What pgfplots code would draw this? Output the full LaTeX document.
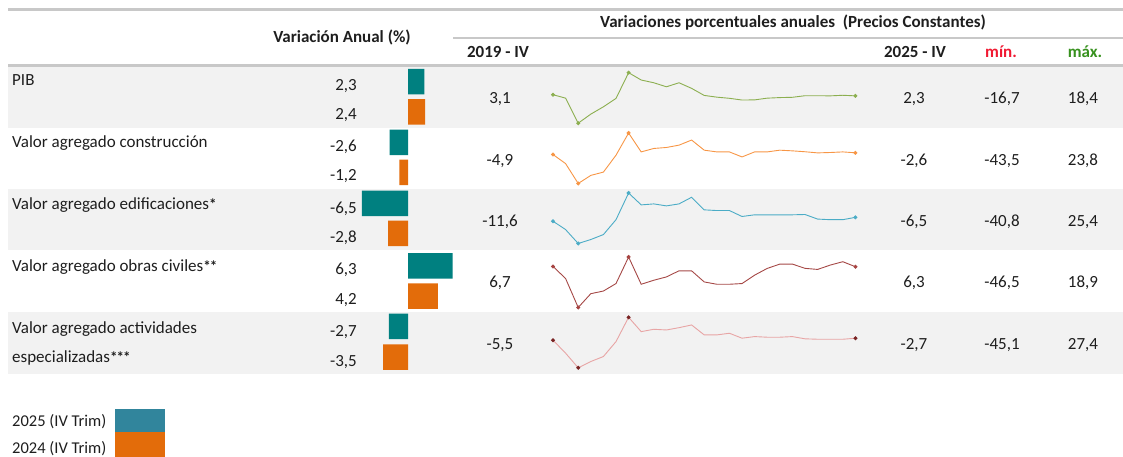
\documentclass[border=0pt]{standalone}
\usepackage{pgfplots}
\pgfplotsset{compat=1.18}
\usepackage{pgfplotstable}
\usepackage{fontspec}
\setmainfont{Carlito}
\definecolor{barteal}{RGB}{0,128,128}
\definecolor{barorange}{RGB}{227,108,10}
\definecolor{legteal}{RGB}{49,133,156}
\definecolor{rowgray}{RGB}{242,242,242}
\definecolor{linegray}{RGB}{200,200,200}
\definecolor{minred}{RGB}{240,25,50}
\definecolor{maxgreen}{RGB}{55,145,30}
\definecolor{txt}{RGB}{30,30,30}
\definecolor{sgreen}{RGB}{140,175,80}
\definecolor{sorange}{RGB}{247,150,70}
\definecolor{steal}{RGB}{75,172,198}
\definecolor{sred}{RGB}{165,72,70}
\definecolor{spink}{RGB}{232,165,165}
\definecolor{dred}{RGB}{120,35,35}
\newcommand{\astx}[1]{{\fontsize{15}{16}\selectfont\bfseries\addfontfeature{LetterSpace=-6}#1}}

\pgfplotstableread{
q pib con edi obr act
0 3.1 -4.9 -11.6 6.7 -5.5
1 0.7 -17.0 -22.6 -9.0 -24.1
2 -16.7 -43.5 -40.8 -46.5 -45.1
3 -10.4 -32.7 -35.6 -28.6 -36.1
4 -5.3 -28.3 -29.1 -25.2 -28.9
5 0.5 -5.8 -9.6 -15.5 -7.5
6 18.4 23.8 25.4 18.9 27.4
7 13.3 -1.4 9.8 -16.4 6.8
8 11.4 3.2 11.1 -11.2 10.2
9 8.6 4.5 8.5 -6.9 9.2
10 11.4 7.6 11.1 1.0 12.5
11 7.5 14.4 19.8 1.0 16.4
12 2.6 0.9 3.3 -13.4 2.1
13 1.4 -1.4 2.4 -16.4 2.1
14 0.6 -1.4 2.4 -16.4 4.5
15 -0.6 -8.1 -5.4 -15.5 -2.6
16 -0.5 -1.4 -3.2 -4.6 -0.3
17 0.7 -1.4 -3.2 4.1 -1.2
18 1.1 0.9 -3.2 9.7 -1.2
19 1.3 0.0 -3.2 9.7 -0.3
20 2.4 -1.2 -2.8 4.2 -3.5
21 2.4 -2.7 -8.8 2.8 -4.1
22 2.3 -2.2 -9.6 8.4 -4.1
23 2.7 -1.4 -9.6 12.8 -4.1
24 2.3 -2.6 -6.5 6.3 -2.7
}\spark

\pgfplotstableread{
y v
81.7 2.3
142.5 -2.6
203.3 -6.5
265.8 6.3
326.3 -2.7
}\barA

\pgfplotstableread{
y v
112 2.4
172.5 -1.2
233.3 -2.8
296 4.2
357 -3.5
}\barB

\pgfplotsset{
  full/.style={width=1123pt, height=457pt, scale only axis, ymin=0, ymax=457, y dir=reverse, hide axis, clip=false},
  spark/.style={anchor=north west, width=302.4pt, height=50.5pt, scale only axis, xmin=0, xmax=24, hide axis, clip=false},
  sl/.style={line width=0.9pt, mark=*, mark size=1.5pt, mark indices={1,3,7,25}}
}

\begin{document}
\fontsize{17}{20}\selectfont
\color{txt}
\begin{tikzpicture}
\path[use as bounding box] (0,0) rectangle (1123pt,457pt);
\begin{axis}[full, xmin=0, xmax=1123]
% row backgrounds
\fill[rowgray] (axis cs:8,66) rectangle (axis cs:1123,128);
\fill[rowgray] (axis cs:8,188.5) rectangle (axis cs:1123,250);
\fill[rowgray] (axis cs:8,312) rectangle (axis cs:1123,373.5);
% rules
\draw[linegray, line width=3pt] (axis cs:8,10) -- (axis cs:1123,10);
\draw[linegray, line width=2.5pt] (axis cs:453,38) -- (axis cs:1123,38);
\draw[linegray, line width=3pt] (axis cs:8,66) -- (axis cs:1123,66);
% headers
\node[anchor=base, font=\bfseries] at (axis cs:342,43) {Variación Anual (\%)};
\node[anchor=base, font=\bfseries] at (axis cs:793,28) {Variaciones porcentuales anuales\ \ (Precios Constantes)};
\node[anchor=base, font=\bfseries] at (axis cs:498,58) {2019 - IV};
\node[anchor=base, font=\bfseries] at (axis cs:915,58) {2025 - IV};
\node[anchor=base, font=\bfseries, text=minred] at (axis cs:1001,58) {mín.};
\node[anchor=base, font=\bfseries, text=maxgreen] at (axis cs:1085,58) {máx.};
% row labels
\node[anchor=base west, inner xsep=0pt] at (axis cs:12,86) {PIB};
\node[anchor=base west, inner xsep=0pt] at (axis cs:12,148) {Valor agregado construcción};
\node[anchor=base west, inner xsep=0pt] at (axis cs:12,209) {Valor agregado edificaciones\astx{*}};
\node[anchor=base west, inner xsep=0pt] at (axis cs:12,271) {Valor agregado obras civiles\astx{**}};
\node[anchor=base west, inner xsep=0pt] at (axis cs:12,333) {Valor agregado actividades};
\node[anchor=base west, inner xsep=0pt] at (axis cs:12,362) {especializadas\astx{***}};
% bar values
\node[anchor=base east, inner xsep=0pt] at (axis cs:357,90.5) {2,3};
\node[anchor=base east, inner xsep=0pt] at (axis cs:357,120) {2,4};
\node[anchor=base east, inner xsep=0pt] at (axis cs:357,151.5) {-2,6};
\node[anchor=base east, inner xsep=0pt] at (axis cs:357,181) {-1,2};
\node[anchor=base east, inner xsep=0pt] at (axis cs:357,213) {-6,5};
\node[anchor=base east, inner xsep=0pt] at (axis cs:357,242.5) {-2,8};
\node[anchor=base east, inner xsep=0pt] at (axis cs:357,274.5) {6,3};
\node[anchor=base east, inner xsep=0pt] at (axis cs:357,304) {4,2};
\node[anchor=base east, inner xsep=0pt] at (axis cs:357,336.5) {-2,7};
\node[anchor=base east, inner xsep=0pt] at (axis cs:357,366) {-3,5};
% 2019-IV column
\node[anchor=base] at (axis cs:500,103.5) {3,1};
\node[anchor=base] at (axis cs:500,165.5) {-4,9};
\node[anchor=base] at (axis cs:500,226) {-11,6};
\node[anchor=base] at (axis cs:500,287.5) {6,7};
\node[anchor=base] at (axis cs:500,349.5) {-5,5};
% 2025-IV column
\node[anchor=base] at (axis cs:914,103.5) {2,3};
\node[anchor=base] at (axis cs:914,165.5) {-2,6};
\node[anchor=base] at (axis cs:914,226) {-6,5};
\node[anchor=base] at (axis cs:914,287.5) {6,3};
\node[anchor=base] at (axis cs:914,349.5) {-2,7};
% min column
\node[anchor=base] at (axis cs:1002,103.5) {-16,7};
\node[anchor=base] at (axis cs:1002,165.5) {-43,5};
\node[anchor=base] at (axis cs:1002,226) {-40,8};
\node[anchor=base] at (axis cs:1002,287.5) {-46,5};
\node[anchor=base] at (axis cs:1002,349.5) {-45,1};
% max column
\node[anchor=base] at (axis cs:1083,103.5) {18,4};
\node[anchor=base] at (axis cs:1083,165.5) {23,8};
\node[anchor=base] at (axis cs:1083,226) {25,4};
\node[anchor=base] at (axis cs:1083,287.5) {18,9};
\node[anchor=base] at (axis cs:1083,349.5) {27,4};
% legend
\fill[legteal] (axis cs:115,409) rectangle (axis cs:165,432);
\fill[barorange] (axis cs:115,432) rectangle (axis cs:165,457);
\node[anchor=base west, inner xsep=0pt, font=\fontsize{16.5}{18}\selectfont] at (axis cs:12,426) {2025 (IV Trim)};
\node[anchor=base west, inner xsep=0pt, font=\fontsize{16.5}{18}\selectfont] at (axis cs:12,453) {2024 (IV Trim)};
\end{axis}

% bars
\begin{axis}[full, xmin=-57.465, xmax=100.704]
\addplot[xbar, bar width=25.5pt, bar shift=0pt, fill=barteal, draw=none] table[x=v,y=y]{\barA};
\addplot[xbar, bar width=25.5pt, bar shift=0pt, fill=barorange, draw=none] table[x=v,y=y]{\barB};
\end{axis}

% sparklines
\begin{axis}[spark, at={(553pt,384.3pt)}, ymin=-16.7, ymax=18.4]
\addplot[sgreen, sl] table[x=q,y=pib]{\spark};
\end{axis}
\begin{axis}[spark, at={(553pt,324pt)}, ymin=-43.5, ymax=23.8]
\addplot[sorange, sl] table[x=q,y=con]{\spark};
\end{axis}
\begin{axis}[spark, at={(553pt,264pt)}, ymin=-40.8, ymax=25.4]
\addplot[steal, sl] table[x=q,y=edi]{\spark};
\end{axis}
\begin{axis}[spark, at={(553pt,200pt)}, ymin=-46.5, ymax=18.9]
\addplot[sred, sl, mark options={fill=sred!80!red}] table[x=q,y=obr]{\spark};
\end{axis}
\begin{axis}[spark, at={(553pt,139.7pt)}, ymin=-45.1, ymax=27.4]
\addplot[spink, sl, mark options={draw=dred, fill=dred}] table[x=q,y=act]{\spark};
\end{axis}
\end{tikzpicture}
\end{document}
